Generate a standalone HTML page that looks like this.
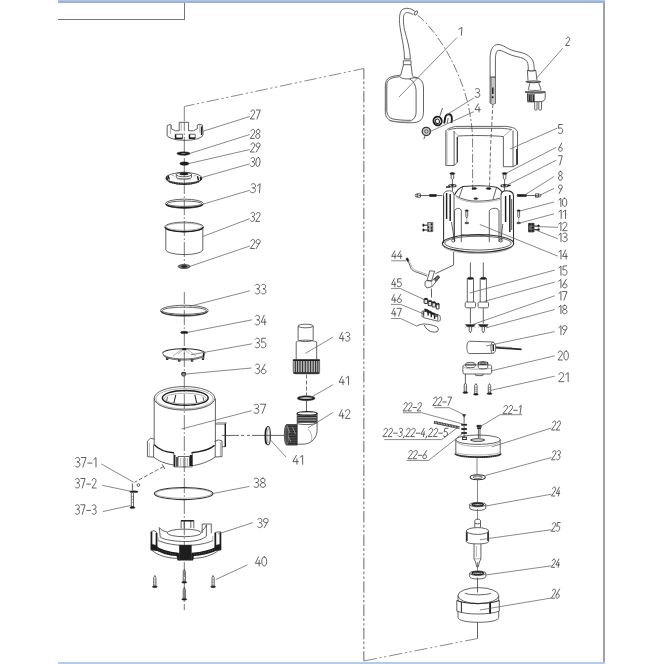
<!DOCTYPE html>
<html><head><meta charset="utf-8"><style>
html,body{margin:0;padding:0;background:#fff;}
body{width:664px;height:664px;position:relative;overflow:hidden;}
svg{position:absolute;left:0;top:0;}
.l{fill:none;stroke:#3c3c3c;stroke-width:0.8}
.lt{fill:none;stroke:#666;stroke-width:0.5}
.lm{fill:none;stroke:#2e2e2e;stroke-width:1.05}
.lb{fill:none;stroke:#1e1e1e;stroke-width:1.45}
.lb2{fill:none;stroke:#1e1e1e;stroke-width:1.9}
.lk{fill:none;stroke:#222;stroke-width:0.75}
.ls{fill:none;stroke:#1a1a1a;stroke-width:0.9}
.lh{fill:none;stroke:#2a2a2a;stroke-width:1.8;stroke-dasharray:1 0.7}
.lh2{fill:none;stroke:#2a2a2a;stroke-width:1.3;stroke-dasharray:1.2 0.6}
.lhh{fill:none;stroke:#1c1c1c;stroke-width:3.6}
.lhw{fill:none;stroke:#707070;stroke-width:0.9;stroke-dasharray:0.7 1.6}
.lhb{fill:none;stroke:#2a2a2a;stroke-width:1.7}
.lr{fill:none;stroke:#262626;stroke-width:1.7}
.lrw{fill:none;stroke:#aaa;stroke-width:0.6;stroke-dasharray:0.6 1.6}
.lhx{fill:none;stroke:#444;stroke-width:2.2;stroke-dasharray:1 0.6}
.lw{fill:none;stroke:#bbb;stroke-width:0.6}
.lw2{fill:none;stroke:#999;stroke-width:0.5}
.ld{fill:none;stroke:#5c5c5c;stroke-width:0.72}
.fdk{fill:#1e1e1e;stroke:#1e1e1e;stroke-width:0.4}
.fw{fill:#ddd;stroke:none}
.fw3{fill:#bbb;stroke:none}
.fw2{fill:#888;stroke:none}
.fg{fill:#6a6a6a;stroke:#222;stroke-width:0.6}
.fgl{fill:#b5b5b5;stroke:#222;stroke-width:0.6}
.fgl2{fill:#c8c8c8;stroke:#555;stroke-width:0.6}
.fgd{fill:#9a9a9a;stroke:#333;stroke-width:0.6}
.fgd2{fill:#666;stroke:#1e1e1e;stroke-width:0.8}
.lw3{fill:none;stroke:#ddd;stroke-width:0.8}
.fg2{fill:#4a4a4a;stroke:#1e1e1e;stroke-width:0.7}
.fgn{fill:#d0d0d0;stroke:#333;stroke-width:0.6}
.fgr{fill:#888;stroke:#222;stroke-width:0.7}
.dd{fill:none;stroke:#9a9a9a;stroke-width:1.5;stroke-dasharray:11.5 2.2 2.8 2.3 2.3 2.24}
.ddg{fill:none;stroke:#858585;stroke-width:0.95;stroke-dasharray:12.5 2.7 2.3 2.4 2.3 2.8}
.l2{fill:none;stroke:#666;stroke-width:0.8}
.dda{fill:none;stroke:#5a5a5a;stroke-width:0.8;stroke-dasharray:9 2.2 2 2.2}
.cl{fill:none;stroke:#4a4a4a;stroke-width:0.75;stroke-dasharray:15 2.2 1.6 2.2;stroke-dashoffset:6.2}
.cl2{fill:none;stroke:#555;stroke-width:0.7}
.d{fill:none;stroke:#4a4a4a;stroke-width:0.8;stroke-dasharray:4 2}
.tx path{fill:none;stroke:#454545;stroke-width:0.85;vector-effect:non-scaling-stroke;stroke-linecap:round;stroke-linejoin:round}
</style></head><body>

<div style="position:absolute;left:58px;top:0;width:547px;height:1.3px;background:#b7c6db"></div>
<div style="position:absolute;left:58px;top:1.3px;width:547px;height:1.6px;background:#97b3df"></div>
<div style="position:absolute;left:58px;top:18.6px;width:126px;height:1.1px;background:#767676"></div>
<div style="position:absolute;left:183.6px;top:2.9px;width:1.1px;height:16.8px;background:#767676"></div>
<div style="position:absolute;left:603px;top:2.9px;width:2px;height:659.1px;background:#a2a2a2"></div>
<div style="position:absolute;left:58px;top:662px;width:547px;height:2px;background:#b4cbec"></div>

<svg width="664" height="664" viewBox="0 0 664 664" role="img" aria-label="Exploded parts diagram of a submersible pump, parts 1 to 47">
<line class="l2" x1="184.3" y1="106.5" x2="184.3" y2="121.5"/>
<path class="ddg" d="M184.3,106.5 L363.8,68.5" stroke-dashoffset="27.3"/>
<path class="dd" d="M363.8,68.5 L363.8,661" stroke-dashoffset="0.84"/>
<path class="ddg" d="M363.8,661 L477.5,638.5" style="stroke-dasharray:13.3 2.8 2.1 2.5 2.1 3"/>
<line class="l" x1="477.5" y1="622.3" x2="477.5" y2="638.5"/>
<line class="cl" x1="184.3" y1="122.3" x2="184.3" y2="264.5"/>
<path class="cl" d="M184.3,292 L184.3,610" style="stroke-dashoffset:2.9"/>
<path class="l" d="M166.6,134.5 A18,5.8 0 0 0 203.2,134.5" />
<path class="l" d="M167.2,134.8 L167.2,125.6 L170.6,124.4 L171.3,125.2 L171.3,128.8 L175.6,130.8 L179.2,130.8 L179.2,122.3 L188.6,122.3 L188.6,130.8 L193.4,130.8 L197.3,128.8 L197.3,125 L199.8,124.2 L202.3,125 L203.2,134.5" />
<path class="lt" d="M181.2,122.3 L181.2,130.8 M170.6,124.4 L170.6,134 M199.8,124.2 L199.8,133" />
<path class="l" d="M175.4,134.2 L182.6,134.2 L182.6,138.2 L175.4,138.2 Z M189.4,134.2 L195.2,134.2 L195.2,138 L189.4,138 Z" />
<path class="lb" d="M175.6,134.5 L175.6,138.5 L182.5,138.5 M189.5,134.5 L189.5,138.3 L195.2,138.3" />
<path class="lb" d="M201.6,126.5 L201.6,135" />
<ellipse class="fdk" cx="183.5" cy="153.5" rx="6.6" ry="1.75" />
<ellipse class="fw2" cx="183.5" cy="153.4" rx="2.6" ry="0.5" />
<ellipse class="fdk" cx="184.4" cy="163.6" rx="4.6" ry="1.75" />
<ellipse class="l" cx="183.9" cy="178" rx="18" ry="5.5" />
<path class="lm" d="M165.9,178 C166.5,181.5 174,184.5 183.9,184.5 C194,184.5 201.3,181.5 201.9,178" />
<path class="lt" d="M167.5,180.2 C172,182.3 178,183 183.9,183 C191,183 197,182 200.5,180" />
<path class="lh" d="M169,181.5 C174,183.3 179,183.8 183.9,183.8 C190,183.8 195,183.2 199,181.5" />
<path class="l" d="M176.3,174.5 L176.3,177.2 C176.3,178.3 180,178.9 183.9,178.9 C188,178.9 191.5,178.3 191.5,177.2 L191.5,174.5" />
<ellipse class="l" cx="183.9" cy="174.5" rx="7.6" ry="2.3" />
<ellipse class="fdk" cx="184" cy="173.9" rx="4.3" ry="1.2" />
<path class="lt" d="M176.8,178.8 C180,180 188,180 191.2,178.8" />
<path class="lb" d="M166.5,176.5 L167.5,179.8 M168,175.5 L169.3,179.5" />
<path class="lb" d="M197.5,176.3 L198.5,180.3 M200.3,177 L201,180" />
<path class="lt" d="M171.5,175 L174.5,176.3 M193.5,176.3 L196.5,175" />
<ellipse class="l" cx="184.4" cy="203.7" rx="19" ry="4.55" />
<ellipse class="l" cx="184.4" cy="203.7" rx="17.2" ry="2.7" />
<path class="lb" d="M166.20000000000002,203.9 A18.2,3.9 0 0 0 202.6,203.9" />
<ellipse class="l" cx="184.1" cy="226.9" rx="19.3" ry="4.8" />
<ellipse class="lt" cx="184.1" cy="226.7" rx="17.8" ry="3.6" />
<path class="lb" d="M165.1,227.1 A19,4.6 0 0 0 203.1,227.1" />
<path class="l" d="M165.8,227 L165.8,249.8 A18.5,4.8 0 0 0 202.8,249.8 L202.8,227" />
<ellipse class="fgr" cx="184.1" cy="266.5" rx="6" ry="2" />
<ellipse class="fdk" cx="184.1" cy="266.5" rx="3" ry="1" />
<ellipse class="l" cx="184.3" cy="310.7" rx="23.9" ry="5.45" />
<ellipse class="l" cx="184.3" cy="310.7" rx="22.1" ry="3.6" />
<path class="lm" d="M161.3,310.9 A23,4.7 0 0 0 207.3,310.9" />
<ellipse class="fdk" cx="184.3" cy="332.4" rx="3.8" ry="1.2" />
<path class="lm" d="M162.7,353.3 A21,4.6 0 0 1 204.9,353.3" />
<path class="l" d="M162.7,353.3 C163,356.5 172,359 184,359 C196,359 204.5,356.5 204.9,353.3" />
<path class="l" d="M163.5,355.5 C166,358.5 174,360 184,360 C194,360 202,358.5 204.3,355.5" />
<path class="lb" d="M203.6,352.8 L203.6,357.5" />
<path class="lt" d="M184.3,349 L178,354 M184.3,349 L189.5,354 M184.3,349 L184.3,355.5 M182,349.2 L173,356 M187,349.2 L196,356" />
<ellipse class="fdk" cx="184.3" cy="349.2" rx="2.2" ry="0.9" />
<path class="lm" d="M166.39999999999998,357.5 L166.6,359.5 L167.79999999999998,359.5 L168.0,357.5" />
<path class="lm" d="M178.5,359.3 L178.70000000000002,361.3 L179.9,361.3 L180.10000000000002,359.3" />
<path class="lm" d="M191.29999999999998,359.3 L191.5,361.3 L192.7,361.3 L192.9,359.3" />
<path class="lm" d="M202.2,357.5 L202.4,359.5 L203.6,359.5 L203.8,357.5" />
<ellipse class="fgr" cx="183.7" cy="374.3" rx="2.1" ry="1.9" />
<path class="lm" d="M181.6,373.5 A2.1,0.9 0 0 1 185.8,373.5" />
<ellipse class="l" cx="184.5" cy="398.3" rx="30.3" ry="11.8" />
<ellipse class="lt" cx="184.5" cy="398.7" rx="28.6" ry="10.1" />
<path class="lt" d="M156,401 A28.6,9.6 0 0 0 213,401" />
<ellipse class="lb" cx="185.3" cy="397.9" rx="22.9" ry="7.4" />
<ellipse class="lt" cx="185.3" cy="398.5" rx="20.8" ry="5.3" />
<path class="lm" d="M175.8,394.8 L173.9,402.8 M194.8,394.8 L196.7,402.8" />
<path class="l" d="M167.5,396.8 L166.8,400.8 M203,396.8 L203.8,400.8" />
<path class="l" d="M154.2,398.5 L154.2,444.5" />
<path class="l" d="M215.4,398.5 L215.4,445.5" />
<path class="lb" d="M154.2,444.6 C158,449 166,452 173.9,452.8" />
<path class="lb" d="M191.5,452.8 C200,452 210,449.5 214.6,445.3" />
<path class="l" d="M153.6,456.9 C158,461 166,464 173.9,465" />
<path class="l" d="M191.5,465.7 C200,465 210,461 215.2,456.9" />
<path class="l" d="M147.4,441.2 L150.5,438.2 L154.2,439.2 M147.4,441.2 L147.4,456.6 L153.6,457.2 L153.6,444.5" />
<path class="lt" d="M149.3,443 L149.3,456" />
<path class="l" d="M214.3,441.5 L218.5,439.9 L222,441 L222,456.6 L215.2,457 L215.2,445.4" />
<path class="lt" d="M220.4,442 L220.4,456" />
<path class="l" d="M215.4,424 L225.3,424 M225.3,446.7 L222,446.7" />
<path class="lb" d="M225.3,423.5 L225.3,446.9" />
<path class="lt" d="M215.4,424 L217,422.5 L226.5,422.5 L225.8,424" />
<path class="l" d="M173.9,452.8 L173.9,466.9 L192.2,466.9 L192.2,452.8" />
<path class="lb" d="M174.7,455 L174.7,466.5 M177,457 L177,466.5 M190.5,455 L190.5,466 M191.7,455 L191.7,466" />
<path class="l" d="M178,456.5 L189.5,456.5 L189.5,466 M178,456.5 L178,466" />
<path class="lt" d="M180.7,458 L180.7,466 M183.4,458 L183.4,468 M185.4,458 L185.4,468 M187.4,458 L187.4,466" />
<path class="l" d="M222,435.4 L284.4,435.4" style="stroke-dasharray:17 2 3 3 3 2 60 0"/>
<ellipse class="lm" cx="268.1" cy="435.8" rx="2.3" ry="9.2" />
<ellipse class="lt" cx="268.3" cy="435.8" rx="1.1" ry="7.5" />
<path class="lb" d="M266.8,428 A1.6,8 0 0 0 266.8,444" />
<path class="d" d="M163.5,466.5 L134.5,482.3" />
<path class="l" d="M162.2,464.3 L164.8,469" />
<circle class="l" cx="138.4" cy="485.1" r="1.3"/>
<ellipse class="fdk" cx="133.8" cy="491.7" rx="4.2" ry="0.9" />
<path class="l" d="M132.4,483.5 L132.4,490.5" />
<path class="l" d="M131.3,493.5 L132.4,492.6 L133.5,493.5 L133.5,506.5 L131.3,506.5 Z" />
<path class="lt" d="M131.8,496 L133,496.8 M131.8,499 L133,499.8 M131.8,502 L133,502.8" />
<ellipse class="fdk" cx="132.4" cy="507.6" rx="2.6" ry="1" />
<ellipse class="lm" cx="183.7" cy="493.5" rx="29.3" ry="6.1" />
<ellipse class="lt" cx="183.7" cy="493.4" rx="27.9" ry="4.9" />
<path class="l" d="M181.1,528.3 L181.1,520.6 L193.8,520.6 L193.8,528.3" />
<path class="lb" d="M181.1,520.8 L193.8,520.8" />
<path class="l" d="M184.2,521 L184.2,528 M190.8,521 L190.8,528" />
<path class="l" d="M202.2,533 L202.2,524 L211.3,524 L211.3,533" />
<path class="l" d="M159.2,527.5 L160.3,537.2 C165,540 175,541.5 185.8,541.5 C196,541.5 203,539.5 206.4,536.1 L206.4,524.8" />
<path class="l" d="M159.2,527.5 C161,530 164,531.5 167.4,532" />
<ellipse class="l" cx="184.2" cy="532.9" rx="17" ry="3.8" />
<path class="l" d="M201,531.5 C203.5,530 205.5,527.5 206.4,524.8" />
<path class="l" d="M158.1,540.5 C165,543.5 175,545.4 185.8,545.4 C197,545.4 207,543.5 212.9,540.5" />
<path class="lt" d="M212.9,540.5 L212.9,536 M158.1,540.5 L158.1,537" />
<path class="lhh" d="M153.5,546.5 C160,551.5 168,553.8 178.5,554.5" />
<path class="lhh" d="M192,554.5 C202,553.8 212,551 218.3,547.8" />
<path class="lhw" d="M153.5,546.5 C160,551.5 168,553.8 178.5,554.5" />
<path class="lhw" d="M192,554.5 C202,553.8 212,551 218.3,547.8" />
<path class="l" d="M151.6,550 C157,555 166,558 176.9,558.4 M193,558.4 C204,558 213,555 219.1,550" />
<rect class="fdk" x="179.3" y="545.1" width="12.1" height="15.1" />
<path class="fdk" d="M176.5,553.5 L179.3,553.5 L179.3,560.2 L177.5,560.2 Z M191.4,553.5 L194,553.5 L193,560.2 L191.4,560.2 Z" />
<path class="l" d="M151,531.5 L151,550 L157,550.5 L157,532.5 L154,530.7 Z" />
<path class="lb" d="M151.6,532 L151.6,549.5 M156.4,533 L156.4,550" />
<path class="fdk" d="M151.2,544 L156.8,545.5 L156.8,550.3 L151.2,549.8 Z" />
<path class="l" d="M214.9,532.5 L214.9,550.5 L220.9,550 L220.9,532 L218,531.9 Z" />
<path class="lb" d="M215.5,533 L215.5,550 M220.3,532.5 L220.3,549.5" />
<path class="fdk" d="M215.1,545.5 L220.7,544 L220.7,549.8 L215.1,550.3 Z" />
<path class="l" d="M153.70000000000002,577.7 L154.8,575.5 L155.9,577.7 L155.9,586.2 L153.70000000000002,586.2 Z" />
<path class="lt" d="M153.8,579.5 L155.8,580.3 M153.8,582.0 L155.8,582.8 M153.8,584.5 L155.8,585.3" />
<ellipse class="fdk" cx="154.8" cy="586.8" rx="2.6" ry="0.9" />
<path class="l" d="M183.20000000000002,571.6 L184.3,569.4 L185.4,571.6 L185.4,581.7 L183.20000000000002,581.7 Z" />
<path class="lt" d="M183.3,573.4 L185.3,574.1999999999999 M183.3,575.9 L185.3,576.6999999999999 M183.3,578.4 L185.3,579.1999999999999" />
<ellipse class="fdk" cx="184.3" cy="582.3" rx="2.6" ry="0.9" />
<path class="l" d="M183.20000000000002,589.7 L184.3,587.5 L185.4,589.7 L185.4,598.7 L183.20000000000002,598.7 Z" />
<path class="lt" d="M183.3,591.5 L185.3,592.3 M183.3,594.0 L185.3,594.8 M183.3,596.5 L185.3,597.3" />
<ellipse class="fdk" cx="184.3" cy="599.3" rx="2.6" ry="0.9" />
<path class="l" d="M212.0,577.7 L213.1,575.5 L214.2,577.7 L214.2,586.2 L212.0,586.2 Z" />
<path class="lt" d="M212.1,579.5 L214.1,580.3 M212.1,582.0 L214.1,582.8 M212.1,584.5 L214.1,585.3" />
<ellipse class="fdk" cx="213.1" cy="586.8" rx="2.6" ry="0.9" />
<ellipse class="l" cx="305.65" cy="326" rx="7.55" ry="1.8" />
<path class="l" d="M298.1,326 L298.1,339.6 M313.2,326 L313.2,339.6" />
<path class="l" d="M298.1,339.6 A7.55,2 0 0 0 313.2,339.6" />
<path class="l" d="M296.2,342 L296.2,360 M316.7,342 L316.7,360" />
<path class="l" d="M296.2,342 C299,339.5 311,339.5 316.7,342" />
<path class="fgl" d="M293.2,359.6 L319.6,359.6 L319.6,371.5 C319.6,373 318.5,373.8 317,373.8 L295.8,373.8 C294.3,373.8 293.2,373 293.2,371.5 Z" />
<path class="lb" d="M293.2,360.3 L319.6,360.3" />
<path class="lb" d="M293.4,373 L319.4,373" />
<line class="ls" x1="295.3" y1="361" x2="295.3" y2="372.6"/>
<line class="ls" x1="297.6" y1="361" x2="297.6" y2="372.6"/>
<line class="ls" x1="300" y1="361" x2="300" y2="372.6"/>
<line class="ls" x1="302.6" y1="361" x2="302.6" y2="372.6"/>
<line class="ls" x1="305.3" y1="361" x2="305.3" y2="372.6"/>
<line class="ls" x1="308" y1="361" x2="308" y2="372.6"/>
<line class="ls" x1="310.6" y1="361" x2="310.6" y2="372.6"/>
<line class="ls" x1="313.2" y1="361" x2="313.2" y2="372.6"/>
<line class="ls" x1="315.6" y1="361" x2="315.6" y2="372.6"/>
<line class="ls" x1="317.8" y1="361" x2="317.8" y2="372.6"/>
<line class="d" x1="306.5" y1="374.5" x2="306.5" y2="395.5"/>
<ellipse class="fdk" cx="306.2" cy="398.2" rx="8.9" ry="2.5" />
<ellipse class="fw3" cx="306.2" cy="398.1" rx="6.3" ry="1.0" />
<line class="l" x1="306.5" y1="401" x2="306.5" y2="411.5"/>
<ellipse class="lb" cx="307.15" cy="413.4" rx="9.95" ry="1.8" />
<path class="l" d="M297.2,413.4 L297.2,424.6 M317.1,413.4 L317.1,430 C317.1,438 311,444.2 303,444.2 L297.2,444.2" />
<path class="fgl" d="M297.6,415.5 L316.7,415.5 L316.7,422.5 L297.6,422.5 Z" />
<line class="ls" x1="297.6" y1="416.5" x2="316.7" y2="416.5"/>
<line class="ls" x1="297.6" y1="418.2" x2="316.7" y2="418.2"/>
<line class="ls" x1="297.6" y1="419.9" x2="316.7" y2="419.9"/>
<line class="ls" x1="297.6" y1="421.6" x2="316.7" y2="421.6"/>
<path class="l" d="M297.2,423.5 C301,425 313,425 317.1,423" />
<path class="lt" d="M308,429 C311,432 313,437 311,441" />
<path class="fg2" d="M286.5,424.6 L297.2,424.6 L297.2,445.1 L286.5,445.1 A2.1,10.25 0 0 1 286.5,424.6 Z" />
<line class="lk" x1="288" y1="426.5" x2="297" y2="426.5"/>
<line class="lk" x1="288" y1="429" x2="297" y2="429"/>
<line class="lk" x1="288" y1="431.5" x2="297" y2="431.5"/>
<line class="lk" x1="288" y1="434" x2="297" y2="434"/>
<line class="lk" x1="288" y1="436.5" x2="297" y2="436.5"/>
<line class="lk" x1="288" y1="439" x2="297" y2="439"/>
<line class="lk" x1="288" y1="441.5" x2="297" y2="441.5"/>
<line class="lk" x1="288" y1="443.5" x2="297" y2="443.5"/>
<path class="lw" d="M287.5,427 L290,433 M288,436 L291,442 M292.5,427 L295.5,434" />
<ellipse class="lw2" cx="286.8" cy="434.8" rx="1.8" ry="9.5" />
<path class="l" d="M404.5,59 C404.5,49 402,39 400.3,29 C399,21 399.2,14.5 401,11.2 C403,8 407,7.8 411,9 L414.8,11.2" />
<path class="l" d="M410.4,59 C410,49 407,39 404.3,29 C403.1,22 403,17 404.3,14.2 C405.8,11.8 409,12.2 413.2,14.5" />
<ellipse class="l" cx="415.9" cy="13" rx="1.3" ry="2.3" transform="rotate(35 415.9 13)"/>
<path class="l" d="M403.3,60.8 L411,60.8 L411,64.7 L403.3,64.7 Z" />
<path class="l" d="M403.5,64.7 L400.6,75.5 M411,64.7 L412.4,75.8" />
<path class="l" d="M404,59 L410.8,59" />
<path class="l" d="M400.6,75.2 C395,75.6 390,76.5 387.5,79 C385.8,80.8 385.3,83.5 385.3,87 L385.3,111 C385.3,116 387,119.3 391,120.8 C395,122.2 405,123 413.5,122.7 C418,122.5 421,120.8 422.5,117.5 C423.3,115.5 423.5,113 423.5,110 L423.5,88 C423.5,83 421.5,79.5 418,78 C416,77.2 414,77 412.4,76.8" />
<path class="l" d="M387.2,82.5 C388,79.8 391,78 395,77.3 L399.7,76.7 C401.5,78.2 404,78.9 406.5,78.9 L409.5,78.9 C412,80 414.5,83 415.5,86.5 C416.1,88.5 416.1,91 416.1,93 L416.1,112 C416.1,116 414.5,119 411.6,120.3 C406,120.5 398,120 393,119 C389.5,118.2 387.3,115.5 386.8,111.5 L386.8,85 Z" />
<path class="l" d="M409.5,78.9 C412,77.8 415,77.6 417.5,78" />
<path class="lt" d="M386.2,84 L386.2,111 M389,120.6 C395,121.6 404,122 411,121.7" />
<path class="dda" d="M417.5,15 C439,33 459,68 468,104 C470.5,115 472,126 472.6,137 L472.6,190" />
<ellipse class="lb2" cx="437.6" cy="121" rx="4.1" ry="4.3" transform="rotate(-20 437.6 121)"/>
<ellipse class="lm" cx="437.4" cy="121.3" rx="2" ry="2.3" transform="rotate(-20 437.4 121.3)"/>
<path class="lb2" d="M444.2,123.5 L445.2,117.5 C445.8,115 448,113.8 450,114.5 C452,115.3 452.2,118 451.6,121.5 L451.2,123" />
<path class="l" d="M447.2,123.5 L448.2,118" />
<line class="l" x1="439.8" y1="116.1" x2="442.5" y2="108"/>
<path class="fgn" d="M426.3,127.2 L430,129.3 L430,133.5 L426.3,135.6 L422.6,133.5 L422.6,129.3 Z" />
<circle class="lm" cx="426.3" cy="131.4" r="4.2"/>
<circle class="l" cx="426.3" cy="131.4" r="1.7"/>
<line class="l" x1="425.3" y1="135.3" x2="423.8" y2="139.2"/>
<path class="l" d="M490.1,103.2 L490.1,58 C490.1,50 493,44.5 498,44.5 C502,44.5 505,47 509,49 C513,51 517,51.5 521,52.5 C527,54 531,57 533,61 C534,64 534.2,67 534.2,69.9" />
<path class="l" d="M495.4,103.2 L495.4,59 C495.4,54 496.5,50.3 499,50.3 C502,50.3 505,52.5 509,54.2 C513,56 517,56.5 520.5,57.5 C524.5,58.6 527,60.5 527.8,63.5 C528.3,65.5 528.3,68 528.3,69.9" />
<line class="l" x1="490.1" y1="103.2" x2="495.4" y2="103.2"/>
<path class="fgl2" d="M490.4,77.2 L495.4,77.2 L495.4,103.5 L492.5,104.5 L490.4,103 Z" />
<line class="lb" x1="492.8" y1="87.5" x2="492.8" y2="94.1"/>
<ellipse class="fdk" cx="492.6" cy="97.2" rx="0.8" ry="0.9" />
<line class="lt" x1="491.4" y1="78" x2="491.4" y2="102.5"/>
<line class="l" x1="490.1" y1="77" x2="495.4" y2="77"/>
<line class="d" x1="492.9" y1="104" x2="490.6" y2="146.5"/>
<line class="d" x1="490.6" y1="146.5" x2="489.4" y2="190"/>
<path class="lm" d="M527.4,70.3 C529,71.2 534,71.2 535.8,70.3" />
<path class="l" d="M527.4,70.3 L528,80.4 M535.8,70.3 L537,80.4" />
<path class="lm" d="M526,81.8 C526,80.6 540.7,80.6 540.7,81.8 C540.7,83 526,83 526,81.8 Z" />
<path class="l" d="M529.8,83.2 L528.3,89.8 M538.8,83.2 L541.2,89.8" />
<path class="lt" d="M528.3,89.8 C532,90.6 538,90.6 541.2,89.8" />
<path class="lm" d="M525.3,91.9 C525.3,90.6 545.2,90.6 545.2,91.9 C545.2,93.2 525.3,93.2 525.3,91.9 Z" />
<path class="l" d="M527.5,93.2 L527.5,99.5 C527.5,100.8 529,101.6 531,101.6 L541,101.6 C543.6,101.6 545.2,100 545.2,97.5 L545.2,92.5" />
<path class="l" d="M527.6,94.4 L534.3,94.4 L534.3,101.9 L527.6,101.9 Z" />
<path class="lb" d="M529.2,95 L529.2,101.5 M531,95 L531,101.5 M533.2,95 L533.2,101.5" />
<path class="l" d="M534.7,101.9 L534.7,109.2 A1.15,1 0 0 0 537,109.2 L537,101.9 M538.8,101.9 L538.8,109.2 A1.35,1 0 0 0 541.5,109.2 L541.5,101.9" />
<path class="l" d="M445.8,165.5 L445.8,131 C446.5,129.6 449,128 455.4,126.4 L506.6,126.4 C511,127 514.5,128 515.5,129 L517.5,131.5 L517.5,164.2 L513,166.7 L503.4,166.7 L503.4,136.6 C495,135.5 470,135.2 458.6,136 L457.3,137 L457.3,162.3 L454.1,165.5 Z" />
<path class="l" d="M448.3,130.2 C450,129.3 452,128.8 456.6,128.3 L501.5,128.3 C506,128.6 509,129 511.7,129.6" />
<path class="l" d="M454.1,131 L454.1,165.5 M513,130.5 L513,166.7" />
<path class="lt" d="M454.1,131 C455,132.5 456,134 458.6,136 M503.4,136.6 C506,134 509,131.5 511.7,129.6" />
<path class="lm" d="M457.3,137 L457.3,162.3" />
<path class="lb" d="M516.9,149 L516.9,164.5" />
<path class="lt" d="M447,131.5 L447,164.5" />
<ellipse class="fdk" cx="452.4" cy="173.6" rx="2.5" ry="1.1" />
<path class="l" d="M451.09999999999997,174.5 L451.09999999999997,178.2 C451.09999999999997,179.6 453.7,179.6 453.7,178.2 L453.7,174.5" />
<line class="l" x1="452.4" y1="179.6" x2="452.4" y2="191"/>
<ellipse class="lm" cx="452.4" cy="185.7" rx="3.7" ry="1.2" />
<ellipse class="fdk" cx="452.4" cy="185.5" rx="1.2" ry="0.6" />
<ellipse class="fdk" cx="504.6" cy="173.6" rx="2.5" ry="1.1" />
<path class="l" d="M503.3,174.5 L503.3,178.2 C503.3,179.6 505.90000000000003,179.6 505.90000000000003,178.2 L505.90000000000003,174.5" />
<line class="l" x1="504.6" y1="179.6" x2="504.6" y2="191"/>
<ellipse class="lm" cx="504.6" cy="185.7" rx="3.7" ry="1.2" />
<ellipse class="fdk" cx="504.6" cy="185.5" rx="1.2" ry="0.6" />
<path class="lb" d="M446,187 L450.1,187" />
<path class="lb" d="M507.7,185.4 L510.7,185.4" />
<path class="lm" d="M454.5,195 C456.5,191 459.5,188 462.9,186.6 C475,185.4 488,185.4 496.6,187.2 C499.5,188.8 501.5,190.5 502.7,192.5" />
<path class="l" d="M462.9,186.6 L459.3,196.9 M496.6,187.2 L493,199.3" />
<path class="l" d="M455.7,195.7 C462,199.5 470,201.1 476.1,201.1 C486,201.1 495,199.8 500.2,198" />
<path class="lt" d="M456.5,197.5 C463,201 470,202.3 476.1,202.3 C486,202.3 495,201 500.5,199.3" />
<path class="l" d="M443.3,196 C443.3,192 446,190.8 449.5,190.8 C452,190.8 454,192 454,195 L454,240" />
<path class="lm" d="M443.6,196 L443.6,243" />
<path class="lm" d="M501,195 C501,192 503,190.8 506.5,190.8 C510.5,190.8 513.5,192 513.5,196 L513.5,243" />
<path class="l" d="M501,195 L501,236" />
<path class="lb" d="M446.6,193 L446.6,219 M450.2,194 L450.2,221" />
<path class="l" d="M451.5,222 C452.5,228 453.5,235 454.5,241" />
<path class="lb" d="M505.6,196 L505.6,222 M509.8,195 L509.8,232" />
<path class="l" d="M502.8,224 C502,230 501.5,236 501,241" />
<path class="lk" d="M511.7,199 L511.7,230" />
<path class="l" d="M454.5,242 L454.5,211.5 C454.5,207.5 461.3,207.2 461.3,211 L461.3,242" />
<path class="l" d="M489.3,242 L489.3,211.5 C489.3,207.5 499,207.2 499,211 L499,242" />
<path class="l" d="M461.3,234.6 C470,236.2 482,236.2 489.3,234.6" />
<ellipse class="lm" cx="478" cy="243.4" rx="35.7" ry="8.8" />
<ellipse class="l" cx="478" cy="243.1" rx="33.3" ry="6.9" />
<path class="lt" d="M443,245 A35,8.6 0 0 0 513,245" />
<ellipse class="fdk" cx="474.3" cy="188.5" rx="2.5" ry="1" />
<ellipse class="fdk" cx="488.6" cy="188.5" rx="2.5" ry="1" />
<ellipse class="fdk" cx="475.8" cy="198.6" rx="2" ry="0.9" />
<circle class="l" cx="453.3" cy="240.5" r="1.6"/>
<circle class="l" cx="500.8" cy="240.5" r="1.6"/>
<path class="l" d="M418.8,195.5 L429.6,195.5 M436.4,195.5 L442.3,195.5" />
<path class="l" d="M526.5,195.5 L537.5,195.5 M516.7,195.5 L517.3,195.5" />
<rect class="fdk" x="429.6" y="194.3" width="6.8" height="2.4" />
<rect class="fdk" x="517.3" y="194.3" width="9.2" height="2.4" />
<path class="l" d="M417,193.8 L420.5,193.8 L420.5,197.2 L417,197.2 Z" />
<circle class="l" cx="416.6" cy="195.5" r="1.4"/>
<path class="l" d="M535.5,193.8 L538.5,193.8 L538.5,197.2 L535.5,197.2 Z" />
<circle class="l" cx="539.5" cy="195.5" r="1.4"/>
<ellipse class="fdk" cx="466.8" cy="210.6" rx="1.6" ry="0.8" />
<path class="l" d="M465.90000000000003,211 L465.90000000000003,216.5 L466.8,218 L467.7,216.5 L467.7,211" />
<line class="lt" x1="466.8" y1="218" x2="466.8" y2="222"/>
<ellipse class="fdk" cx="518.7" cy="210.6" rx="1.6" ry="0.8" />
<path class="l" d="M517.8000000000001,211 L517.8000000000001,216.5 L518.7,218 L519.6,216.5 L519.6,211" />
<line class="lt" x1="518.7" y1="218" x2="518.7" y2="222"/>
<ellipse class="fdk" cx="466.8" cy="223" rx="2.1" ry="0.8" />
<ellipse class="fdk" cx="518.7" cy="223" rx="2.1" ry="0.8" />
<path class="fgd" d="M427.6,222.5 L432.8,222.5 L432.8,231.6 L427.6,231.6 Z" />
<circle class="fdk" cx="431.5" cy="224.3" r="0.7"/>
<circle class="fdk" cx="431.5" cy="227.8" r="0.7"/>
<circle class="fdk" cx="428.8" cy="227.2" r="0.7"/>
<circle class="fdk" cx="431.5" cy="230.4" r="0.7"/>
<circle class="fdk" cx="428.8" cy="230.4" r="0.7"/>
<line class="lw3" x1="429.8" y1="223" x2="429.8" y2="231"/>
<line class="lm" x1="423.5" y1="225.2" x2="427.6" y2="225.2"/>
<ellipse class="fdk" cx="423.4" cy="225.2" rx="0.8" ry="1.3" />
<line class="lm" x1="423.5" y1="230" x2="427.6" y2="230"/>
<ellipse class="fdk" cx="423.4" cy="230" rx="0.8" ry="1.3" />
<path class="fgd2" d="M528.6,223.4 L534,223.4 L534,231.9 L528.6,231.9 Z" />
<circle class="fdk" cx="529.8" cy="224.6" r="0.75"/>
<circle class="fdk" cx="532.6" cy="224.6" r="0.75"/>
<circle class="fdk" cx="532.6" cy="227.8" r="0.75"/>
<circle class="fdk" cx="529.8" cy="230.6" r="0.75"/>
<circle class="fdk" cx="532.6" cy="230.6" r="0.75"/>
<line class="lm" x1="534" y1="226" x2="538.4" y2="226"/>
<ellipse class="fdk" cx="538.6" cy="226" rx="0.9" ry="1.2" />
<line class="lm" x1="534" y1="229.6" x2="538.4" y2="229.6"/>
<ellipse class="fdk" cx="538.6" cy="229.6" rx="0.9" ry="1.2" />
<path class="l" d="M453.6,252 L453.6,265 L435.5,273.6" />
<path class="l" d="M407.3,259.8 C408.3,262 409.5,264 410.5,267.5 C411.5,270 414,271.5 419,273 C422,274 424.5,275 427,276.2" />
<path class="lt" d="M408.6,259.8 C409.6,262 410.8,264 411.8,267 C412.8,269.2 415,270.3 419.5,271.7 C422.5,272.7 425,273.6 427.5,274.6" />
<ellipse class="fdk" cx="407.4" cy="259.6" rx="1.1" ry="1.9" transform="rotate(-25 407.4 259.6)"/>
<path class="l" d="M429.8,270.8 L434.6,271.3 L431.5,281 L427,280.5 Z" />
<path class="l" d="M425.2,281.5 L427,280.5 L431.5,281 L438,275.5 L439.5,277.5 L432,286.6 L427,288 L425,285.5 Z" />
<path class="lt" d="M431.5,281 L432,286.6 M433,280 L438.8,276.5" />
<path class="fg" d="M434.5,278.5 L438.5,275.8 L439.5,277.5 L435.5,281.5 Z" />
<line class="l" x1="431.5" y1="288.6" x2="431.5" y2="297.5"/>
<path class="lm" d="M424.09999999999997,299.0 L424.09999999999997,302.8 A1.8,0.8 0 0 0 427.7,302.8 L427.7,299.0" />
<ellipse class="fdk" cx="425.9" cy="299.0" rx="1.8" ry="0.9" />
<line class="lt" x1="425.9" y1="300.7" x2="425.9" y2="302.7"/>
<path class="lm" d="M428.2,301.1 L428.2,304.90000000000003 A1.8,0.8 0 0 0 431.8,304.90000000000003 L431.8,301.1" />
<ellipse class="fdk" cx="430" cy="301.1" rx="1.8" ry="0.9" />
<line class="lt" x1="430" y1="302.8" x2="430" y2="304.8"/>
<path class="lm" d="M432.0,302.40000000000003 L432.0,306.20000000000005 A1.8,0.8 0 0 0 435.6,306.20000000000005 L435.6,302.40000000000003" />
<ellipse class="fdk" cx="433.8" cy="302.40000000000003" rx="1.8" ry="0.9" />
<line class="lt" x1="433.8" y1="304.1" x2="433.8" y2="306.1"/>
<path class="lm" d="M436.2,304 L436.2,308.4 A1.4,0.6 0 0 0 439,308.4 L439,304" />
<ellipse class="lm" cx="437.6" cy="304" rx="1.4" ry="0.7" />
<path class="l" d="M422.5,310.8 L438.5,314.8 C440,315.2 440.3,316.5 440.3,317.5 L440.3,319.5 C440.3,321 439,321.5 437.8,321.2 L423.8,317.7 C422.7,317.4 422,316.6 422,315.5 L422,312 C422,311.4 422.2,311 422.5,310.8 Z" />
<path class="fdk" d="M424.59999999999997,308.79999999999995 L427.9,309.59999999999997 L427.9,311.7 L424.59999999999997,310.9 Z" />
<line class="lb" x1="428.09999999999997" y1="310.09999999999997" x2="428.09999999999997" y2="315.5"/>
<path class="fdk" d="M427.83,310.49999999999994 L431.13,311.29999999999995 L431.13,313.4 L427.83,312.59999999999997 Z" />
<line class="lb" x1="431.33" y1="311.79999999999995" x2="431.33" y2="317.2"/>
<path class="fdk" d="M431.05999999999995,312.19999999999993 L434.35999999999996,312.99999999999994 L434.35999999999996,315.09999999999997 L431.05999999999995,314.29999999999995 Z" />
<line class="lb" x1="434.55999999999995" y1="313.49999999999994" x2="434.55999999999995" y2="318.9"/>
<path class="fg" d="M434.28999999999996,313.9 L437.59,314.7 L437.59,316.8 L434.28999999999996,316.0 Z" />
<line class="l" x1="437.78999999999996" y1="315.2" x2="437.78999999999996" y2="320.6"/>
<line class="lm" x1="423.7" y1="311.3" x2="423.7" y2="316.8"/>
<path class="l" d="M416.5,326 C419,324.8 421.5,324 424.3,324 C428,324 433,325 436.8,326.8 C438.8,328 438.8,331 437,331.7 C434.5,332.5 431,332 429,330.7 C426.5,329 425,327 424.3,325" />
<line class="l" x1="470.4" y1="262.5" x2="470.4" y2="277.5"/>
<path class="l" d="M467.29999999999995,278.3 L467.29999999999995,302 M473.5,302 L473.5,278.3" />
<ellipse class="fdk" cx="470.4" cy="278.4" rx="3.1" ry="1.1" />
<path class="l" d="M465.2,303.2 C465.2,302.2 465.9,302 466.9,302 L473.9,302 C474.9,302 475.59999999999997,302.2 475.59999999999997,303.2 L475.59999999999997,306.5 C475.59999999999997,307.5 474.9,307.8 473.9,307.8 L466.9,307.8 C465.9,307.8 465.2,307.5 465.2,306.5 Z" />
<line class="l" x1="470.4" y1="308" x2="470.4" y2="323.5"/>
<path class="fdk" d="M465.4,324.6 L475.4,324.6 L473.4,326.8 L467.4,326.8 Z" />
<path class="lt" d="M466.9,325.5 L465.4,327.8 M473.9,325.5 L475.4,327.8" />
<path class="l" d="M469.2,327 L469.2,330.5 L470.4,332.8 L471.59999999999997,330.5 L471.59999999999997,327" />
<line class="l" x1="483.3" y1="262.5" x2="483.3" y2="277.5"/>
<path class="l" d="M480.2,278.3 L480.2,302 M486.40000000000003,302 L486.40000000000003,278.3" />
<ellipse class="fdk" cx="483.3" cy="278.4" rx="3.1" ry="1.1" />
<path class="l" d="M478.1,303.2 C478.1,302.2 478.8,302 479.8,302 L486.8,302 C487.8,302 488.5,302.2 488.5,303.2 L488.5,306.5 C488.5,307.5 487.8,307.8 486.8,307.8 L479.8,307.8 C478.8,307.8 478.1,307.5 478.1,306.5 Z" />
<line class="l" x1="483.3" y1="308" x2="483.3" y2="323.5"/>
<path class="fdk" d="M478.3,324.6 L488.3,324.6 L486.3,326.8 L480.3,326.8 Z" />
<path class="lt" d="M479.8,325.5 L478.3,327.8 M486.8,325.5 L488.3,327.8" />
<path class="l" d="M482.1,327 L482.1,330.5 L483.3,332.8 L484.5,330.5 L484.5,327" />
<path class="l" d="M469.5,341.2 L492.5,342 C495,342.2 495.7,345 495.7,347.7 C495.7,350.5 495,353.2 492.5,353.4 L469.5,353.6 C467.6,353.6 466.9,350.5 466.9,347.4 C466.9,344.3 467.6,341.2 469.5,341.2 Z" />
<path class="l" d="M492.6,342.2 C491.2,343 490.9,345.5 490.9,347.7 C490.9,350 491.2,352.5 492.6,353.3" />
<path class="lb" d="M493.3,344.5 L493.3,351" />
<path class="lhb" d="M495.7,347.6 L521.6,349.4" />
<path class="lt" d="M496,346.5 L512,347.5" />
<path class="l" d="M462.9,366.5 C462.9,365.5 463.6,364.9 465,364.9 L489.5,364.9 C491,364.9 491.7,365.5 491.7,366.8 L491.7,372 C491.7,373.3 491,374 489.5,374 L465,374 C463.6,374 462.9,373.3 462.9,372 Z" />
<path class="lt" d="M462.9,366.5 C465,368.6 470,369.2 476,369.2 L491.7,368.5" />
<path class="l" d="M475.3,374 L475.8,375.6 L482.8,375.6 L483.2,374" />
<path class="l" d="M465.7,363.8 L465.7,366.2 A4.8,1.5 0 0 0 475.3,366.2 L475.3,363.8" />
<ellipse class="l" cx="470.5" cy="363.8" rx="4.8" ry="1.4" />
<ellipse class="lt" cx="470.5" cy="363.7" rx="3" ry="0.8" />
<path class="l" d="M478.2,363.2 L478.2,367.5 A4.8,1.5 0 0 0 487.8,367.5 L487.8,363.2" />
<ellipse class="lm" cx="483" cy="363.1" rx="4.8" ry="1.4" />
<ellipse class="l" cx="483" cy="363.1" rx="2.8" ry="0.8" />
<line class="l" x1="465.4" y1="374" x2="465.4" y2="383"/>
<path class="l" d="M464.2,385 L465.4,383 L466.59999999999997,385 L466.59999999999997,392.0 L464.2,392.0 Z" />
<path class="lt" d="M464.29999999999995,386.5 L466.5,387.4 M464.29999999999995,388.5 L466.5,389.4 M464.29999999999995,390.5 L466.5,391.4" />
<ellipse class="fdk" cx="465.4" cy="392.59999999999997" rx="2.5" ry="0.9" />
<path class="l" d="M474.7,385.6 L475.9,383.6 L477.09999999999997,385.6 L477.09999999999997,393.7 L474.7,393.7 Z" />
<path class="lt" d="M474.79999999999995,387.1 L477.0,388.0 M474.79999999999995,389.1 L477.0,390.0 M474.79999999999995,391.1 L477.0,392.0" />
<ellipse class="fdk" cx="475.9" cy="394.29999999999995" rx="2.5" ry="0.9" />
<path class="l" d="M488.3,385.6 L489.5,383.6 L490.7,385.6 L490.7,393.1 L488.3,393.1 Z" />
<path class="lt" d="M488.4,387.1 L490.6,388.0 M488.4,389.1 L490.6,390.0 M488.4,391.1 L490.6,392.0" />
<ellipse class="fdk" cx="489.5" cy="393.7" rx="2.5" ry="0.9" />
<path class="fdk" d="M462.4,414.6 L465.8,414.6 L464.1,417.2 Z" />
<line class="l" x1="464.1" y1="417" x2="464.1" y2="438"/>
<path class="fdk" d="M461.6,424.0 L464.1,424.7 L466.6,424.0 L466.6,425.4 L464.1,424.7 L461.6,425.4 Z" />
<line class="lb" x1="461.6" y1="424.7" x2="466.6" y2="424.7"/>
<path class="fdk" d="M461.6,428.3 L464.1,429 L466.6,428.3 L466.6,429.7 L464.1,429 L461.6,429.7 Z" />
<line class="lb" x1="461.6" y1="429" x2="466.6" y2="429"/>
<path class="fdk" d="M461.6,432.3 L464.1,433 L466.6,432.3 L466.6,433.7 L464.1,433 L461.6,433.7 Z" />
<line class="lb" x1="461.6" y1="433" x2="466.6" y2="433"/>
<path class="lm" d="M462.6,437.2 L466.4,437.2 L466.4,439.5 L462.6,439.5 Z" />
<path class="l" d="M434.1,421.3 L459.6,426.7 M433.8,423.2 L459.3,428.6" />
<path class="lhx" d="M434,422.2 L459.4,427.6" />
<path class="fdk" d="M476.9,425.2 L481.4,425.2 L481.4,427.3 L476.9,427.3 Z" />
<path class="lb" d="M477.2,428.3 L481.1,428.3" />
<path class="l" d="M478.4,428.8 L478.4,438 M480,428.8 L480,438" />
<ellipse class="l" cx="478" cy="439.7" rx="22.2" ry="4.7" />
<ellipse class="lm" cx="477.6" cy="439.9" rx="6.8" ry="1.25" />
<path class="l" d="M455.8,439.7 L455.8,453.8 M500.2,439.7 L500.2,453.8" />
<path class="lt" d="M455.8,441.7 C461,445.5 470,446.5 478,446.5 C486,446.5 495,445.5 500.2,441.7" />
<path class="lr" d="M455.2,453.6 A22.8,3.6 0 0 0 500.8,453.6" />
<path class="lrw" d="M455.2,453.6 A22.8,3.6 0 0 0 500.8,453.6" />
<path class="lt" d="M456,452 A22,3 0 0 0 500,452" />
<line class="cl2" x1="477" y1="458" x2="477" y2="474.6"/>
<ellipse class="lm" cx="477.7" cy="477.2" rx="7.6" ry="2.5" />
<ellipse class="l" cx="477.7" cy="477.2" rx="4.6" ry="1.2" />
<line class="cl2" x1="477.5" y1="479" x2="477.5" y2="502"/>
<path class="l" d="M469.7,504.59999999999997 L469.7,508.2 A8.05,2.2 0 0 0 485.8,508.2 L485.8,504.59999999999997" />
<ellipse class="l" cx="477.75" cy="504.59999999999997" rx="8.05" ry="2.2" />
<ellipse class="lb" cx="477.75" cy="504.59999999999997" rx="5.6" ry="1.4" />
<ellipse class="l" cx="477.75" cy="504.59999999999997" rx="3.4" ry="0.8" />
<line class="cl2" x1="477.5" y1="509" x2="477.5" y2="520"/>
<path class="l" d="M474.8,527.5 L474.8,521 C474.8,519.6 476,519.2 477.6,519.2 C479.3,519.2 480.5,519.6 480.5,521 L480.5,527.5" />
<path class="l" d="M474.8,523.2 C476,524 479.3,524 480.5,523.2" />
<path class="l" d="M466.3,531 L466.3,541.5 C466.3,543 471,543.9 477.4,543.9 C484,543.9 488.6,543 488.6,541.5 L488.6,531" />
<ellipse class="l" cx="477.45" cy="531" rx="11.15" ry="3.4" />
<path class="lb" d="M466.9,532.5 L466.9,541 M488,532.5 L488,541" />
<path class="l" d="M474,544 L474,559 L475.6,562 L476.8,567 L478.2,567 L479.4,562 L480.9,559 L480.9,544" />
<path class="lt" d="M474,558.8 L480.9,558.8" />
<path class="lt" d="M476.3,546 L476.3,557" />
<line class="cl2" x1="477.5" y1="562" x2="477.5" y2="572"/>
<path class="l" d="M469.7,573.2 L469.7,576.8 A8.05,2.2 0 0 0 485.8,576.8 L485.8,573.2" />
<ellipse class="l" cx="477.75" cy="573.2" rx="8.05" ry="2.2" />
<ellipse class="lb" cx="477.75" cy="573.2" rx="5.6" ry="1.4" />
<ellipse class="l" cx="477.75" cy="573.2" rx="3.4" ry="0.8" />
<line class="l" x1="477.5" y1="577.5" x2="477.5" y2="592.5"/>
<ellipse class="l" cx="478.35" cy="595.6" rx="20.4" ry="8" />
<path class="l" d="M458,595.6 L458,600.8 M498.7,595.6 L498.7,600.8" />
<path class="l" d="M464.8,593.2 C470,595.4 486,595.4 491.1,593.2" />
<path class="lm" d="M456.8,600.6 C462,602.8 470,603.6 477.5,603.6 C486,603.6 494,602.8 499.3,600.6" />
<path class="l" d="M456.8,611.1 C462,613.2 470,614 477.5,614 C486,614 494,613.2 499.3,611.1" />
<path class="l" d="M456.8,600.6 L456.8,611.1 M499.3,600.6 L499.3,611.1" />
<line class="lm" x1="461.4" y1="601.8" x2="461.4" y2="612.6"/>
<line class="lb2" x1="490.1" y1="602.8" x2="490.1" y2="613.6"/>
<path class="l" d="M458,611.5 L458,617.5 C458,620.5 467,622.3 478.4,622.3 C490,622.3 498.7,620.5 498.7,617.5 L498.7,611.5" />
<line class="ld" x1="203.2" y1="131.2" x2="249.8" y2="116.5"/>
<line class="ld" x1="190.2" y1="153.3" x2="249.8" y2="134.5"/>
<line class="ld" x1="189" y1="163.5" x2="249.8" y2="149.5"/>
<line class="ld" x1="201.9" y1="177.5" x2="249.8" y2="163.8"/>
<line class="ld" x1="203.4" y1="204" x2="249.8" y2="190.3"/>
<line class="ld" x1="202.8" y1="236.5" x2="249.8" y2="218.6"/>
<line class="ld" x1="190.1" y1="266.3" x2="249.8" y2="246"/>
<line class="ld" x1="189.5" y1="306.4" x2="249.8" y2="290.8"/>
<line class="ld" x1="188" y1="332.3" x2="252" y2="319.8"/>
<line class="ld" x1="190.6" y1="354.8" x2="252" y2="343.8"/>
<line class="ld" x1="186" y1="374" x2="251.5" y2="368"/>
<line class="ld" x1="181.4" y1="429" x2="251.8" y2="410.6"/>
<line class="ld" x1="213" y1="493.5" x2="249.5" y2="486.4"/>
<line class="ld" x1="218" y1="534" x2="253" y2="522.6"/>
<line class="ld" x1="215.8" y1="579.5" x2="247.5" y2="564.9"/>
<line class="ld" x1="305.4" y1="353.4" x2="333.1" y2="337"/>
<line class="ld" x1="311.5" y1="397" x2="333.1" y2="384.7"/>
<line class="ld" x1="307.8" y1="428" x2="333.1" y2="412.4"/>
<line class="ld" x1="270.5" y1="440" x2="286" y2="457"/>
<line class="ld" x1="101.4" y1="464" x2="133.7" y2="482.3"/>
<line class="ld" x1="102.2" y1="485.3" x2="131.2" y2="491.4"/>
<line class="ld" x1="102.7" y1="511.6" x2="130.4" y2="505.5"/>
<line class="ld" x1="399" y1="97" x2="457" y2="37.5"/>
<line class="ld" x1="446.4" y1="114.9" x2="473.8" y2="98"/>
<line class="ld" x1="429.6" y1="131.8" x2="473.8" y2="111.7"/>
<line class="ld" x1="536.1" y1="78.7" x2="562.6" y2="48.4"/>
<line class="ld" x1="510" y1="149" x2="557.4" y2="128.1"/>
<line class="ld" x1="506" y1="173.3" x2="556.3" y2="147.3"/>
<line class="ld" x1="507.8" y1="184.7" x2="556.3" y2="160.2"/>
<line class="ld" x1="523.5" y1="195.8" x2="554" y2="176.5"/>
<line class="ld" x1="535.5" y1="197.3" x2="554" y2="188.4"/>
<line class="ld" x1="519.9" y1="211" x2="554" y2="202"/>
<line class="ld" x1="519.9" y1="223" x2="554" y2="213.8"/>
<line class="ld" x1="535.5" y1="226.5" x2="558" y2="227.3"/>
<line class="ld" x1="534.6" y1="229.6" x2="558" y2="238.8"/>
<line class="ld" x1="479.8" y1="224.5" x2="558" y2="256.2"/>
<line class="ld" x1="469.5" y1="293" x2="554.7" y2="270.1"/>
<line class="ld" x1="484.4" y1="301.3" x2="554.7" y2="282.1"/>
<line class="ld" x1="472.8" y1="324.5" x2="554.7" y2="295.8"/>
<line class="ld" x1="486" y1="327.8" x2="554.7" y2="309.5"/>
<line class="ld" x1="486" y1="346" x2="554.7" y2="331.6"/>
<line class="ld" x1="491" y1="370.9" x2="554.7" y2="355.8"/>
<line class="ld" x1="491.1" y1="390.3" x2="554.7" y2="376.2"/>
<line class="ld" x1="491.8" y1="446.9" x2="551.4" y2="428"/>
<line class="ld" x1="485.4" y1="475.5" x2="551.4" y2="457.5"/>
<line class="ld" x1="485.8" y1="506" x2="551.4" y2="494.2"/>
<line class="ld" x1="480" y1="539.7" x2="551.4" y2="529.7"/>
<line class="ld" x1="485.8" y1="575" x2="551.4" y2="565.8"/>
<line class="ld" x1="480" y1="610" x2="551.4" y2="598"/>
<path class="ld" d="M391,260.8 L406,260.8" />
<path class="ld" d="M391,288.4 L400,288.4 L424.7,299.8" />
<path class="ld" d="M391,304.4 L400.7,304.4 L423,313.6" />
<path class="ld" d="M391,318.5 L400.7,318.5 L416.5,326" />
<path class="ld" d="M434.1,407.7 L449.4,407.7 L464.6,415.1" />
<path class="ld" d="M402.9,412.7 L421.6,412.7 L463.2,424.1" />
<path class="ld" d="M384.2,439.6 L441.7,439.6 L458.4,426.9" />
<path class="ld" d="M406.4,460.4 L428.6,460.4 L463.2,433.1" />
<path class="ld" d="M522,414.7 L500,414.7 L479.1,427.3" />
<g class="tx" transform="translate(250.83,110.00) skewX(-4) scale(0.979,1.000)"><title>27</title><path d="M0.25,1.7 C0.6,0.5 1.3,0 2.1,0 C3.3,0 4.05,0.8 4.05,2.1 C4.05,3.3 3.5,4.2 2.7,5.2 L0.1,9 L4.2,9" transform="translate(0.00,0)"/><path d="M0,0 L4.2,0 L1.4,9" transform="translate(5.50,0)"/></g>
<g class="tx" transform="translate(250.83,129.40) skewX(-4) scale(0.979,1.000)"><title>28</title><path d="M0.25,1.7 C0.6,0.5 1.3,0 2.1,0 C3.3,0 4.05,0.8 4.05,2.1 C4.05,3.3 3.5,4.2 2.7,5.2 L0.1,9 L4.2,9" transform="translate(0.00,0)"/><path d="M2.1,0 C1,0 0.3,0.8 0.3,2 C0.3,3.3 1,4 2.1,4.3 C3.2,4.6 4.2,5.3 4.2,6.7 C4.2,8.1 3.3,9 2.1,9 C0.9,9 0,8.1 0,6.7 C0,5.3 1,4.6 2.1,4.3 C3.2,4 3.9,3.3 3.9,2 C3.9,0.8 3.2,0 2.1,0 Z" transform="translate(5.50,0)"/></g>
<g class="tx" transform="translate(250.83,143.00) skewX(-4) scale(0.979,1.000)"><title>29</title><path d="M0.25,1.7 C0.6,0.5 1.3,0 2.1,0 C3.3,0 4.05,0.8 4.05,2.1 C4.05,3.3 3.5,4.2 2.7,5.2 L0.1,9 L4.2,9" transform="translate(0.00,0)"/><path d="M0.7,9 L3.2,4.4 C3.85,3.5 4.2,2.8 4.2,2.1 C4.2,0.8 3.3,0 2.1,0 C0.9,0 0,0.8 0,2.1 C0,3.4 0.9,4.2 2.1,4.2 C2.6,4.2 3,4 3.3,3.8" transform="translate(5.50,0)"/></g>
<g class="tx" transform="translate(250.83,157.50) skewX(-4) scale(0.979,1.000)"><title>30</title><path d="M0.3,0.9 C0.8,0.25 1.4,0 2.05,0 C3.3,0 4,0.9 4,2.2 C4,3.5 3.2,4.2 1.6,4.2 C3.3,4.2 4.2,5.2 4.2,6.6 C4.2,8.1 3.3,9 2,9 C1.2,9 0.6,8.7 0.1,8.1" transform="translate(0.00,0)"/><path d="M2.1,0 C0.7,0 0,2 0,4.5 C0,7 0.7,9 2.1,9 C3.5,9 4.2,7 4.2,4.5 C4.2,2 3.5,0 2.1,0 Z" transform="translate(5.50,0)"/></g>
<g class="tx" transform="translate(250.83,183.70) skewX(-4) scale(1.202,1.000)"><title>31</title><path d="M0.3,0.9 C0.8,0.25 1.4,0 2.05,0 C3.3,0 4,0.9 4,2.2 C4,3.5 3.2,4.2 1.6,4.2 C3.3,4.2 4.2,5.2 4.2,6.6 C4.2,8.1 3.3,9 2,9 C1.2,9 0.6,8.7 0.1,8.1" transform="translate(0.00,0)"/><path d="M0.2,1.9 L2.2,0 L2.2,9" transform="translate(5.50,0)"/></g>
<g class="tx" transform="translate(250.83,212.40) skewX(-4) scale(0.979,1.000)"><title>32</title><path d="M0.3,0.9 C0.8,0.25 1.4,0 2.05,0 C3.3,0 4,0.9 4,2.2 C4,3.5 3.2,4.2 1.6,4.2 C3.3,4.2 4.2,5.2 4.2,6.6 C4.2,8.1 3.3,9 2,9 C1.2,9 0.6,8.7 0.1,8.1" transform="translate(0.00,0)"/><path d="M0.25,1.7 C0.6,0.5 1.3,0 2.1,0 C3.3,0 4.05,0.8 4.05,2.1 C4.05,3.3 3.5,4.2 2.7,5.2 L0.1,9 L4.2,9" transform="translate(5.50,0)"/></g>
<g class="tx" transform="translate(250.83,239.50) skewX(-4) scale(0.979,1.000)"><title>29</title><path d="M0.25,1.7 C0.6,0.5 1.3,0 2.1,0 C3.3,0 4.05,0.8 4.05,2.1 C4.05,3.3 3.5,4.2 2.7,5.2 L0.1,9 L4.2,9" transform="translate(0.00,0)"/><path d="M0.7,9 L3.2,4.4 C3.85,3.5 4.2,2.8 4.2,2.1 C4.2,0.8 3.3,0 2.1,0 C0.9,0 0,0.8 0,2.1 C0,3.4 0.9,4.2 2.1,4.2 C2.6,4.2 3,4 3.3,3.8" transform="translate(5.50,0)"/></g>
<g class="tx" transform="translate(255.00,284.30) scale(1.124,1.067)"><title>33</title><path d="M0.3,0.9 C0.8,0.25 1.4,0 2.05,0 C3.3,0 4,0.9 4,2.2 C4,3.5 3.2,4.2 1.6,4.2 C3.3,4.2 4.2,5.2 4.2,6.6 C4.2,8.1 3.3,9 2,9 C1.2,9 0.6,8.7 0.1,8.1" transform="translate(0.00,0)"/><path d="M0.3,0.9 C0.8,0.25 1.4,0 2.05,0 C3.3,0 4,0.9 4,2.2 C4,3.5 3.2,4.2 1.6,4.2 C3.3,4.2 4.2,5.2 4.2,6.6 C4.2,8.1 3.3,9 2,9 C1.2,9 0.6,8.7 0.1,8.1" transform="translate(5.50,0)"/></g>
<g class="tx" transform="translate(255.00,315.30) scale(1.124,1.067)"><title>34</title><path d="M0.3,0.9 C0.8,0.25 1.4,0 2.05,0 C3.3,0 4,0.9 4,2.2 C4,3.5 3.2,4.2 1.6,4.2 C3.3,4.2 4.2,5.2 4.2,6.6 C4.2,8.1 3.3,9 2,9 C1.2,9 0.6,8.7 0.1,8.1" transform="translate(0.00,0)"/><path d="M2.7,0 L0,6.4 L4.3,6.4 M3.2,3.6 L3.2,9" transform="translate(5.50,0)"/></g>
<g class="tx" transform="translate(255.00,338.20) scale(1.124,1.067)"><title>35</title><path d="M0.3,0.9 C0.8,0.25 1.4,0 2.05,0 C3.3,0 4,0.9 4,2.2 C4,3.5 3.2,4.2 1.6,4.2 C3.3,4.2 4.2,5.2 4.2,6.6 C4.2,8.1 3.3,9 2,9 C1.2,9 0.6,8.7 0.1,8.1" transform="translate(0.00,0)"/><path d="M3.9,0 L0.6,0 L0.4,4 C0.9,3.6 1.5,3.5 2.1,3.5 C3.4,3.5 4.2,4.6 4.2,6.2 C4.2,8 3.3,9 2,9 C1.2,9 0.6,8.7 0.1,8.2" transform="translate(5.50,0)"/></g>
<g class="tx" transform="translate(255.00,364.10) scale(1.124,1.067)"><title>36</title><path d="M0.3,0.9 C0.8,0.25 1.4,0 2.05,0 C3.3,0 4,0.9 4,2.2 C4,3.5 3.2,4.2 1.6,4.2 C3.3,4.2 4.2,5.2 4.2,6.6 C4.2,8.1 3.3,9 2,9 C1.2,9 0.6,8.7 0.1,8.1" transform="translate(0.00,0)"/><path d="M3.5,0 L1,4.6 C0.35,5.5 0,6.2 0,6.9 C0,8.2 0.9,9 2.1,9 C3.3,9 4.2,8.2 4.2,6.9 C4.2,5.6 3.3,4.8 2.1,4.8 C1.6,4.8 1.2,5 0.9,5.2" transform="translate(5.50,0)"/></g>
<g class="tx" transform="translate(253.70,404.20) scale(1.237,1.022)"><title>37</title><path d="M0.3,0.9 C0.8,0.25 1.4,0 2.05,0 C3.3,0 4,0.9 4,2.2 C4,3.5 3.2,4.2 1.6,4.2 C3.3,4.2 4.2,5.2 4.2,6.6 C4.2,8.1 3.3,9 2,9 C1.2,9 0.6,8.7 0.1,8.1" transform="translate(0.00,0)"/><path d="M0,0 L4.2,0 L1.4,9" transform="translate(5.50,0)"/></g>
<g class="tx" transform="translate(253.80,478.20) scale(1.196,1.022)"><title>38</title><path d="M0.3,0.9 C0.8,0.25 1.4,0 2.05,0 C3.3,0 4,0.9 4,2.2 C4,3.5 3.2,4.2 1.6,4.2 C3.3,4.2 4.2,5.2 4.2,6.6 C4.2,8.1 3.3,9 2,9 C1.2,9 0.6,8.7 0.1,8.1" transform="translate(0.00,0)"/><path d="M2.1,0 C1,0 0.3,0.8 0.3,2 C0.3,3.3 1,4 2.1,4.3 C3.2,4.6 4.2,5.3 4.2,6.7 C4.2,8.1 3.3,9 2.1,9 C0.9,9 0,8.1 0,6.7 C0,5.3 1,4.6 2.1,4.3 C3.2,4 3.9,3.3 3.9,2 C3.9,0.8 3.2,0 2.1,0 Z" transform="translate(5.50,0)"/></g>
<g class="tx" transform="translate(257.60,518.40) scale(1.082,1.022)"><title>39</title><path d="M0.3,0.9 C0.8,0.25 1.4,0 2.05,0 C3.3,0 4,0.9 4,2.2 C4,3.5 3.2,4.2 1.6,4.2 C3.3,4.2 4.2,5.2 4.2,6.6 C4.2,8.1 3.3,9 2,9 C1.2,9 0.6,8.7 0.1,8.1" transform="translate(0.00,0)"/><path d="M0.7,9 L3.2,4.4 C3.85,3.5 4.2,2.8 4.2,2.1 C4.2,0.8 3.3,0 2.1,0 C0.9,0 0,0.8 0,2.1 C0,3.4 0.9,4.2 2.1,4.2 C2.6,4.2 3,4 3.3,3.8" transform="translate(5.50,0)"/></g>
<g class="tx" transform="translate(255.40,556.80) scale(1.165,1.022)"><title>40</title><path d="M2.7,0 L0,6.4 L4.3,6.4 M3.2,3.6 L3.2,9" transform="translate(0.00,0)"/><path d="M2.1,0 C0.7,0 0,2 0,4.5 C0,7 0.7,9 2.1,9 C3.5,9 4.2,7 4.2,4.5 C4.2,2 3.5,0 2.1,0 Z" transform="translate(5.50,0)"/></g>
<g class="tx" transform="translate(339.30,332.30) scale(1.093,0.978)"><title>43</title><path d="M2.7,0 L0,6.4 L4.3,6.4 M3.2,3.6 L3.2,9" transform="translate(0.00,0)"/><path d="M0.3,0.9 C0.8,0.25 1.4,0 2.05,0 C3.3,0 4,0.9 4,2.2 C4,3.5 3.2,4.2 1.6,4.2 C3.3,4.2 4.2,5.2 4.2,6.6 C4.2,8.1 3.3,9 2,9 C1.2,9 0.6,8.7 0.1,8.1" transform="translate(5.50,0)"/></g>
<g class="tx" transform="translate(339.00,376.20) scale(1.241,0.944)"><title>41</title><path d="M2.7,0 L0,6.4 L4.3,6.4 M3.2,3.6 L3.2,9" transform="translate(0.00,0)"/><path d="M0.2,1.9 L2.2,0 L2.2,9" transform="translate(5.50,0)"/></g>
<g class="tx" transform="translate(339.00,409.60) scale(1.134,0.978)"><title>42</title><path d="M2.7,0 L0,6.4 L4.3,6.4 M3.2,3.6 L3.2,9" transform="translate(0.00,0)"/><path d="M0.25,1.7 C0.6,0.5 1.3,0 2.1,0 C3.3,0 4.05,0.8 4.05,2.1 C4.05,3.3 3.5,4.2 2.7,5.2 L0.1,9 L4.2,9" transform="translate(5.50,0)"/></g>
<g class="tx" transform="translate(292.90,455.40) scale(1.266,0.978)"><title>41</title><path d="M2.7,0 L0,6.4 L4.3,6.4 M3.2,3.6 L3.2,9" transform="translate(0.00,0)"/><path d="M0.2,1.9 L2.2,0 L2.2,9" transform="translate(5.50,0)"/></g>
<g class="tx" transform="translate(75.20,457.50) scale(1.117,1.056)"><title>37-1</title><path d="M0.3,0.9 C0.8,0.25 1.4,0 2.05,0 C3.3,0 4,0.9 4,2.2 C4,3.5 3.2,4.2 1.6,4.2 C3.3,4.2 4.2,5.2 4.2,6.6 C4.2,8.1 3.3,9 2,9 C1.2,9 0.6,8.7 0.1,8.1" transform="translate(0.00,0)"/><path d="M0,0 L4.2,0 L1.4,9" transform="translate(5.50,0)"/><path d="M0.2,5.3 L4.1,5.3" transform="translate(11.00,0)"/><path d="M0.2,1.9 L2.2,0 L2.2,9" transform="translate(16.40,0)"/></g>
<g class="tx" transform="translate(75.20,478.50) scale(1.019,1.056)"><title>37-2</title><path d="M0.3,0.9 C0.8,0.25 1.4,0 2.05,0 C3.3,0 4,0.9 4,2.2 C4,3.5 3.2,4.2 1.6,4.2 C3.3,4.2 4.2,5.2 4.2,6.6 C4.2,8.1 3.3,9 2,9 C1.2,9 0.6,8.7 0.1,8.1" transform="translate(0.00,0)"/><path d="M0,0 L4.2,0 L1.4,9" transform="translate(5.50,0)"/><path d="M0.2,5.3 L4.1,5.3" transform="translate(11.00,0)"/><path d="M0.25,1.7 C0.6,0.5 1.3,0 2.1,0 C3.3,0 4.05,0.8 4.05,2.1 C4.05,3.3 3.5,4.2 2.7,5.2 L0.1,9 L4.2,9" transform="translate(16.40,0)"/></g>
<g class="tx" transform="translate(75.20,504.80) scale(1.019,1.056)"><title>37-3</title><path d="M0.3,0.9 C0.8,0.25 1.4,0 2.05,0 C3.3,0 4,0.9 4,2.2 C4,3.5 3.2,4.2 1.6,4.2 C3.3,4.2 4.2,5.2 4.2,6.6 C4.2,8.1 3.3,9 2,9 C1.2,9 0.6,8.7 0.1,8.1" transform="translate(0.00,0)"/><path d="M0,0 L4.2,0 L1.4,9" transform="translate(5.50,0)"/><path d="M0.2,5.3 L4.1,5.3" transform="translate(11.00,0)"/><path d="M0.3,0.9 C0.8,0.25 1.4,0 2.05,0 C3.3,0 4,0.9 4,2.2 C4,3.5 3.2,4.2 1.6,4.2 C3.3,4.2 4.2,5.2 4.2,6.6 C4.2,8.1 3.3,9 2,9 C1.2,9 0.6,8.7 0.1,8.1" transform="translate(16.40,0)"/></g>
<g class="tx" transform="translate(458.75,27.40) skewX(-4) scale(1.441,0.878)"><title>1</title><path d="M0.2,1.9 L2.2,0 L2.2,9" transform="translate(0.00,0)"/></g>
<g class="tx" transform="translate(566.08,37.20) skewX(-4) scale(0.913,0.922)"><title>2</title><path d="M0.25,1.7 C0.6,0.5 1.3,0 2.1,0 C3.3,0 4.05,0.8 4.05,2.1 C4.05,3.3 3.5,4.2 2.7,5.2 L0.1,9 L4.2,9" transform="translate(0.00,0)"/></g>
<g class="tx" transform="translate(475.00,88.50) scale(1.143,0.978)"><title>3</title><path d="M0.3,0.9 C0.8,0.25 1.4,0 2.05,0 C3.3,0 4,0.9 4,2.2 C4,3.5 3.2,4.2 1.6,4.2 C3.3,4.2 4.2,5.2 4.2,6.6 C4.2,8.1 3.3,9 2,9 C1.2,9 0.6,8.7 0.1,8.1" transform="translate(0.00,0)"/></g>
<g class="tx" transform="translate(475.00,103.80) scale(1.262,0.911)"><title>4</title><path d="M2.7,0 L0,6.4 L4.3,6.4 M3.2,3.6 L3.2,9" transform="translate(0.00,0)"/></g>
<g class="tx" transform="translate(558.10,124.50) scale(1.095,1.000)"><title>5</title><path d="M3.9,0 L0.6,0 L0.4,4 C0.9,3.6 1.5,3.5 2.1,3.5 C3.4,3.5 4.2,4.6 4.2,6.2 C4.2,8 3.3,9 2,9 C1.2,9 0.6,8.7 0.1,8.2" transform="translate(0.00,0)"/></g>
<g class="tx" transform="translate(558.50,143.20) scale(0.905,0.889)"><title>6</title><path d="M3.5,0 L1,4.6 C0.35,5.5 0,6.2 0,6.9 C0,8.2 0.9,9 2.1,9 C3.3,9 4.2,8.2 4.2,6.9 C4.2,5.6 3.3,4.8 2.1,4.8 C1.6,4.8 1.2,5 0.9,5.2" transform="translate(0.00,0)"/></g>
<g class="tx" transform="translate(558.50,155.70) scale(0.905,1.022)"><title>7</title><path d="M0,0 L4.2,0 L1.4,9" transform="translate(0.00,0)"/></g>
<g class="tx" transform="translate(558.50,171.30) scale(0.905,1.000)"><title>8</title><path d="M2.1,0 C1,0 0.3,0.8 0.3,2 C0.3,3.3 1,4 2.1,4.3 C3.2,4.6 4.2,5.3 4.2,6.7 C4.2,8.1 3.3,9 2.1,9 C0.9,9 0,8.1 0,6.7 C0,5.3 1,4.6 2.1,4.3 C3.2,4 3.9,3.3 3.9,2 C3.9,0.8 3.2,0 2.1,0 Z" transform="translate(0.00,0)"/></g>
<g class="tx" transform="translate(558.50,185.00) scale(0.905,0.944)"><title>9</title><path d="M0.7,9 L3.2,4.4 C3.85,3.5 4.2,2.8 4.2,2.1 C4.2,0.8 3.3,0 2.1,0 C0.9,0 0,0.8 0,2.1 C0,3.4 0.9,4.2 2.1,4.2 C2.6,4.2 3,4 3.3,3.8" transform="translate(0.00,0)"/></g>
<g class="tx" transform="translate(558.60,198.20) scale(1.038,0.922)"><title>10</title><path d="M0.2,1.9 L2.2,0 L2.2,9" transform="translate(0.00,0)"/><path d="M2.1,0 C0.7,0 0,2 0,4.5 C0,7 0.7,9 2.1,9 C3.5,9 4.2,7 4.2,4.5 C4.2,2 3.5,0 2.1,0 Z" transform="translate(3.70,0)"/></g>
<g class="tx" transform="translate(558.60,210.00) scale(1.180,0.944)"><title>11</title><path d="M0.2,1.9 L2.2,0 L2.2,9" transform="translate(0.00,0)"/><path d="M0.2,1.9 L2.2,0 L2.2,9" transform="translate(3.70,0)"/></g>
<g class="tx" transform="translate(558.60,222.30) scale(1.063,0.933)"><title>12</title><path d="M0.2,1.9 L2.2,0 L2.2,9" transform="translate(0.00,0)"/><path d="M0.25,1.7 C0.6,0.5 1.3,0 2.1,0 C3.3,0 4.05,0.8 4.05,2.1 C4.05,3.3 3.5,4.2 2.7,5.2 L0.1,9 L4.2,9" transform="translate(3.70,0)"/></g>
<g class="tx" transform="translate(558.60,233.00) scale(1.089,0.956)"><title>13</title><path d="M0.2,1.9 L2.2,0 L2.2,9" transform="translate(0.00,0)"/><path d="M0.3,0.9 C0.8,0.25 1.4,0 2.05,0 C3.3,0 4,0.9 4,2.2 C4,3.5 3.2,4.2 1.6,4.2 C3.3,4.2 4.2,5.2 4.2,6.6 C4.2,8.1 3.3,9 2,9 C1.2,9 0.6,8.7 0.1,8.1" transform="translate(3.70,0)"/></g>
<g class="tx" transform="translate(558.60,250.00) scale(1.089,1.000)"><title>14</title><path d="M0.2,1.9 L2.2,0 L2.2,9" transform="translate(0.00,0)"/><path d="M2.7,0 L0,6.4 L4.3,6.4 M3.2,3.6 L3.2,9" transform="translate(3.70,0)"/></g>
<g class="tx" transform="translate(558.60,266.00) scale(1.063,1.022)"><title>15</title><path d="M0.2,1.9 L2.2,0 L2.2,9" transform="translate(0.00,0)"/><path d="M3.9,0 L0.6,0 L0.4,4 C0.9,3.6 1.5,3.5 2.1,3.5 C3.4,3.5 4.2,4.6 4.2,6.2 C4.2,8 3.3,9 2,9 C1.2,9 0.6,8.7 0.1,8.2" transform="translate(3.70,0)"/></g>
<g class="tx" transform="translate(558.60,279.40) scale(1.063,0.933)"><title>16</title><path d="M0.2,1.9 L2.2,0 L2.2,9" transform="translate(0.00,0)"/><path d="M3.5,0 L1,4.6 C0.35,5.5 0,6.2 0,6.9 C0,8.2 0.9,9 2.1,9 C3.3,9 4.2,8.2 4.2,6.9 C4.2,5.6 3.3,4.8 2.1,4.8 C1.6,4.8 1.2,5 0.9,5.2" transform="translate(3.70,0)"/></g>
<g class="tx" transform="translate(558.60,291.60) scale(1.063,0.933)"><title>17</title><path d="M0.2,1.9 L2.2,0 L2.2,9" transform="translate(0.00,0)"/><path d="M0,0 L4.2,0 L1.4,9" transform="translate(3.70,0)"/></g>
<g class="tx" transform="translate(558.60,305.30) scale(1.063,0.933)"><title>18</title><path d="M0.2,1.9 L2.2,0 L2.2,9" transform="translate(0.00,0)"/><path d="M2.1,0 C1,0 0.3,0.8 0.3,2 C0.3,3.3 1,4 2.1,4.3 C3.2,4.6 4.2,5.3 4.2,6.7 C4.2,8.1 3.3,9 2.1,9 C0.9,9 0,8.1 0,6.7 C0,5.3 1,4.6 2.1,4.3 C3.2,4 3.9,3.3 3.9,2 C3.9,0.8 3.2,0 2.1,0 Z" transform="translate(3.70,0)"/></g>
<g class="tx" transform="translate(558.60,325.70) scale(1.063,1.000)"><title>19</title><path d="M0.2,1.9 L2.2,0 L2.2,9" transform="translate(0.00,0)"/><path d="M0.7,9 L3.2,4.4 C3.85,3.5 4.2,2.8 4.2,2.1 C4.2,0.8 3.3,0 2.1,0 C0.9,0 0,0.8 0,2.1 C0,3.4 0.9,4.2 2.1,4.2 C2.6,4.2 3,4 3.3,3.8" transform="translate(3.70,0)"/></g>
<g class="tx" transform="translate(557.90,351.00) scale(1.082,1.000)"><title>20</title><path d="M0.25,1.7 C0.6,0.5 1.3,0 2.1,0 C3.3,0 4.05,0.8 4.05,2.1 C4.05,3.3 3.5,4.2 2.7,5.2 L0.1,9 L4.2,9" transform="translate(0.00,0)"/><path d="M2.1,0 C0.7,0 0,2 0,4.5 C0,7 0.7,9 2.1,9 C3.5,9 4.2,7 4.2,4.5 C4.2,2 3.5,0 2.1,0 Z" transform="translate(5.50,0)"/></g>
<g class="tx" transform="translate(558.60,372.60) scale(1.241,1.011)"><title>21</title><path d="M0.25,1.7 C0.6,0.5 1.3,0 2.1,0 C3.3,0 4.05,0.8 4.05,2.1 C4.05,3.3 3.5,4.2 2.7,5.2 L0.1,9 L4.2,9" transform="translate(0.00,0)"/><path d="M0.2,1.9 L2.2,0 L2.2,9" transform="translate(5.50,0)"/></g>
<g class="tx" transform="translate(552.66,421.00) skewX(-8) scale(0.844,1.000)"><title>22</title><path d="M0.25,1.7 C0.6,0.5 1.3,0 2.1,0 C3.3,0 4.05,0.8 4.05,2.1 C4.05,3.3 3.5,4.2 2.7,5.2 L0.1,9 L4.2,9" transform="translate(0.00,0)"/><path d="M0.25,1.7 C0.6,0.5 1.3,0 2.1,0 C3.3,0 4.05,0.8 4.05,2.1 C4.05,3.3 3.5,4.2 2.7,5.2 L0.1,9 L4.2,9" transform="translate(5.50,0)"/></g>
<g class="tx" transform="translate(552.69,450.60) skewX(-8) scale(0.842,1.022)"><title>23</title><path d="M0.25,1.7 C0.6,0.5 1.3,0 2.1,0 C3.3,0 4.05,0.8 4.05,2.1 C4.05,3.3 3.5,4.2 2.7,5.2 L0.1,9 L4.2,9" transform="translate(0.00,0)"/><path d="M0.3,0.9 C0.8,0.25 1.4,0 2.05,0 C3.3,0 4,0.9 4,2.2 C4,3.5 3.2,4.2 1.6,4.2 C3.3,4.2 4.2,5.2 4.2,6.6 C4.2,8.1 3.3,9 2,9 C1.2,9 0.6,8.7 0.1,8.1" transform="translate(5.50,0)"/></g>
<g class="tx" transform="translate(552.55,487.10) skewX(-8) scale(0.825,0.989)"><title>24</title><path d="M0.25,1.7 C0.6,0.5 1.3,0 2.1,0 C3.3,0 4.05,0.8 4.05,2.1 C4.05,3.3 3.5,4.2 2.7,5.2 L0.1,9 L4.2,9" transform="translate(0.00,0)"/><path d="M2.7,0 L0,6.4 L4.3,6.4 M3.2,3.6 L3.2,9" transform="translate(5.50,0)"/></g>
<g class="tx" transform="translate(552.44,522.50) skewX(-8) scale(0.826,0.978)"><title>25</title><path d="M0.25,1.7 C0.6,0.5 1.3,0 2.1,0 C3.3,0 4.05,0.8 4.05,2.1 C4.05,3.3 3.5,4.2 2.7,5.2 L0.1,9 L4.2,9" transform="translate(0.00,0)"/><path d="M3.9,0 L0.6,0 L0.4,4 C0.9,3.6 1.5,3.5 2.1,3.5 C3.4,3.5 4.2,4.6 4.2,6.2 C4.2,8 3.3,9 2,9 C1.2,9 0.6,8.7 0.1,8.2" transform="translate(5.50,0)"/></g>
<g class="tx" transform="translate(552.35,559.10) skewX(-8) scale(0.802,0.911)"><title>24</title><path d="M0.25,1.7 C0.6,0.5 1.3,0 2.1,0 C3.3,0 4.05,0.8 4.05,2.1 C4.05,3.3 3.5,4.2 2.7,5.2 L0.1,9 L4.2,9" transform="translate(0.00,0)"/><path d="M2.7,0 L0,6.4 L4.3,6.4 M3.2,3.6 L3.2,9" transform="translate(5.50,0)"/></g>
<g class="tx" transform="translate(552.49,589.00) skewX(-8) scale(0.790,1.022)"><title>26</title><path d="M0.25,1.7 C0.6,0.5 1.3,0 2.1,0 C3.3,0 4.05,0.8 4.05,2.1 C4.05,3.3 3.5,4.2 2.7,5.2 L0.1,9 L4.2,9" transform="translate(0.00,0)"/><path d="M3.5,0 L1,4.6 C0.35,5.5 0,6.2 0,6.9 C0,8.2 0.9,9 2.1,9 C3.3,9 4.2,8.2 4.2,6.9 C4.2,5.6 3.3,4.8 2.1,4.8 C1.6,4.8 1.2,5 0.9,5.2" transform="translate(5.50,0)"/></g>
<g class="tx" transform="translate(391.99,251.10) skewX(-3) scale(1.040,0.822)"><title>44</title><path d="M2.7,0 L0,6.4 L4.3,6.4 M3.2,3.6 L3.2,9" transform="translate(0.00,0)"/><path d="M2.7,0 L0,6.4 L4.3,6.4 M3.2,3.6 L3.2,9" transform="translate(5.50,0)"/></g>
<g class="tx" transform="translate(391.60,278.80) scale(1.010,0.878)"><title>45</title><path d="M2.7,0 L0,6.4 L4.3,6.4 M3.2,3.6 L3.2,9" transform="translate(0.00,0)"/><path d="M3.9,0 L0.6,0 L0.4,4 C0.9,3.6 1.5,3.5 2.1,3.5 C3.4,3.5 4.2,4.6 4.2,6.2 C4.2,8 3.3,9 2,9 C1.2,9 0.6,8.7 0.1,8.2" transform="translate(5.50,0)"/></g>
<g class="tx" transform="translate(391.60,294.50) scale(1.010,0.878)"><title>46</title><path d="M2.7,0 L0,6.4 L4.3,6.4 M3.2,3.6 L3.2,9" transform="translate(0.00,0)"/><path d="M3.5,0 L1,4.6 C0.35,5.5 0,6.2 0,6.9 C0,8.2 0.9,9 2.1,9 C3.3,9 4.2,8.2 4.2,6.9 C4.2,5.6 3.3,4.8 2.1,4.8 C1.6,4.8 1.2,5 0.9,5.2" transform="translate(5.50,0)"/></g>
<g class="tx" transform="translate(391.60,308.30) scale(1.010,0.878)"><title>47</title><path d="M2.7,0 L0,6.4 L4.3,6.4 M3.2,3.6 L3.2,9" transform="translate(0.00,0)"/><path d="M0,0 L4.2,0 L1.4,9" transform="translate(5.50,0)"/></g>
<g class="tx" transform="translate(433.87,397.10) skewX(-8) scale(0.862,0.922)"><title>22-7</title><path d="M0.25,1.7 C0.6,0.5 1.3,0 2.1,0 C3.3,0 4.05,0.8 4.05,2.1 C4.05,3.3 3.5,4.2 2.7,5.2 L0.1,9 L4.2,9" transform="translate(0.00,0)"/><path d="M0.25,1.7 C0.6,0.5 1.3,0 2.1,0 C3.3,0 4.05,0.8 4.05,2.1 C4.05,3.3 3.5,4.2 2.7,5.2 L0.1,9 L4.2,9" transform="translate(5.50,0)"/><path d="M0.2,5.3 L4.1,5.3" transform="translate(11.00,0)"/><path d="M0,0 L4.2,0 L1.4,9" transform="translate(16.40,0)"/></g>
<g class="tx" transform="translate(404.07,402.60) skewX(-8) scale(0.862,0.922)"><title>22-2</title><path d="M0.25,1.7 C0.6,0.5 1.3,0 2.1,0 C3.3,0 4.05,0.8 4.05,2.1 C4.05,3.3 3.5,4.2 2.7,5.2 L0.1,9 L4.2,9" transform="translate(0.00,0)"/><path d="M0.25,1.7 C0.6,0.5 1.3,0 2.1,0 C3.3,0 4.05,0.8 4.05,2.1 C4.05,3.3 3.5,4.2 2.7,5.2 L0.1,9 L4.2,9" transform="translate(5.50,0)"/><path d="M0.2,5.3 L4.1,5.3" transform="translate(11.00,0)"/><path d="M0.25,1.7 C0.6,0.5 1.3,0 2.1,0 C3.3,0 4.05,0.8 4.05,2.1 C4.05,3.3 3.5,4.2 2.7,5.2 L0.1,9 L4.2,9" transform="translate(16.40,0)"/></g>
<g class="tx" transform="translate(383.97,428.30) skewX(-8) scale(0.923,0.922)"><title>22-3,22-4,22-5</title><path d="M0.25,1.7 C0.6,0.5 1.3,0 2.1,0 C3.3,0 4.05,0.8 4.05,2.1 C4.05,3.3 3.5,4.2 2.7,5.2 L0.1,9 L4.2,9" transform="translate(0.00,0)"/><path d="M0.25,1.7 C0.6,0.5 1.3,0 2.1,0 C3.3,0 4.05,0.8 4.05,2.1 C4.05,3.3 3.5,4.2 2.7,5.2 L0.1,9 L4.2,9" transform="translate(5.50,0)"/><path d="M0.2,5.3 L4.1,5.3" transform="translate(11.00,0)"/><path d="M0.3,0.9 C0.8,0.25 1.4,0 2.05,0 C3.3,0 4,0.9 4,2.2 C4,3.5 3.2,4.2 1.6,4.2 C3.3,4.2 4.2,5.2 4.2,6.6 C4.2,8.1 3.3,9 2,9 C1.2,9 0.6,8.7 0.1,8.1" transform="translate(16.40,0)"/><path d="M1.2,8.3 L0.5,10.6" transform="translate(21.90,0)"/><path d="M0.25,1.7 C0.6,0.5 1.3,0 2.1,0 C3.3,0 4.05,0.8 4.05,2.1 C4.05,3.3 3.5,4.2 2.7,5.2 L0.1,9 L4.2,9" transform="translate(24.50,0)"/><path d="M0.25,1.7 C0.6,0.5 1.3,0 2.1,0 C3.3,0 4.05,0.8 4.05,2.1 C4.05,3.3 3.5,4.2 2.7,5.2 L0.1,9 L4.2,9" transform="translate(30.00,0)"/><path d="M0.2,5.3 L4.1,5.3" transform="translate(35.50,0)"/><path d="M2.7,0 L0,6.4 L4.3,6.4 M3.2,3.6 L3.2,9" transform="translate(40.90,0)"/><path d="M1.2,8.3 L0.5,10.6" transform="translate(46.40,0)"/><path d="M0.25,1.7 C0.6,0.5 1.3,0 2.1,0 C3.3,0 4.05,0.8 4.05,2.1 C4.05,3.3 3.5,4.2 2.7,5.2 L0.1,9 L4.2,9" transform="translate(49.00,0)"/><path d="M0.25,1.7 C0.6,0.5 1.3,0 2.1,0 C3.3,0 4.05,0.8 4.05,2.1 C4.05,3.3 3.5,4.2 2.7,5.2 L0.1,9 L4.2,9" transform="translate(54.50,0)"/><path d="M0.2,5.3 L4.1,5.3" transform="translate(60.00,0)"/><path d="M3.9,0 L0.6,0 L0.4,4 C0.9,3.6 1.5,3.5 2.1,3.5 C3.4,3.5 4.2,4.6 4.2,6.2 C4.2,8 3.3,9 2,9 C1.2,9 0.6,8.7 0.1,8.2" transform="translate(65.40,0)"/></g>
<g class="tx" transform="translate(408.97,450.40) skewX(-8) scale(0.896,0.922)"><title>22-6</title><path d="M0.25,1.7 C0.6,0.5 1.3,0 2.1,0 C3.3,0 4.05,0.8 4.05,2.1 C4.05,3.3 3.5,4.2 2.7,5.2 L0.1,9 L4.2,9" transform="translate(0.00,0)"/><path d="M0.25,1.7 C0.6,0.5 1.3,0 2.1,0 C3.3,0 4.05,0.8 4.05,2.1 C4.05,3.3 3.5,4.2 2.7,5.2 L0.1,9 L4.2,9" transform="translate(5.50,0)"/><path d="M0.2,5.3 L4.1,5.3" transform="translate(11.00,0)"/><path d="M3.5,0 L1,4.6 C0.35,5.5 0,6.2 0,6.9 C0,8.2 0.9,9 2.1,9 C3.3,9 4.2,8.2 4.2,6.9 C4.2,5.6 3.3,4.8 2.1,4.8 C1.6,4.8 1.2,5 0.9,5.2" transform="translate(16.40,0)"/></g>
<g class="tx" transform="translate(503.97,405.40) skewX(-8) scale(0.929,0.922)"><title>22-1</title><path d="M0.25,1.7 C0.6,0.5 1.3,0 2.1,0 C3.3,0 4.05,0.8 4.05,2.1 C4.05,3.3 3.5,4.2 2.7,5.2 L0.1,9 L4.2,9" transform="translate(0.00,0)"/><path d="M0.25,1.7 C0.6,0.5 1.3,0 2.1,0 C3.3,0 4.05,0.8 4.05,2.1 C4.05,3.3 3.5,4.2 2.7,5.2 L0.1,9 L4.2,9" transform="translate(5.50,0)"/><path d="M0.2,5.3 L4.1,5.3" transform="translate(11.00,0)"/><path d="M0.2,1.9 L2.2,0 L2.2,9" transform="translate(16.40,0)"/></g>
</svg>
</body></html>
